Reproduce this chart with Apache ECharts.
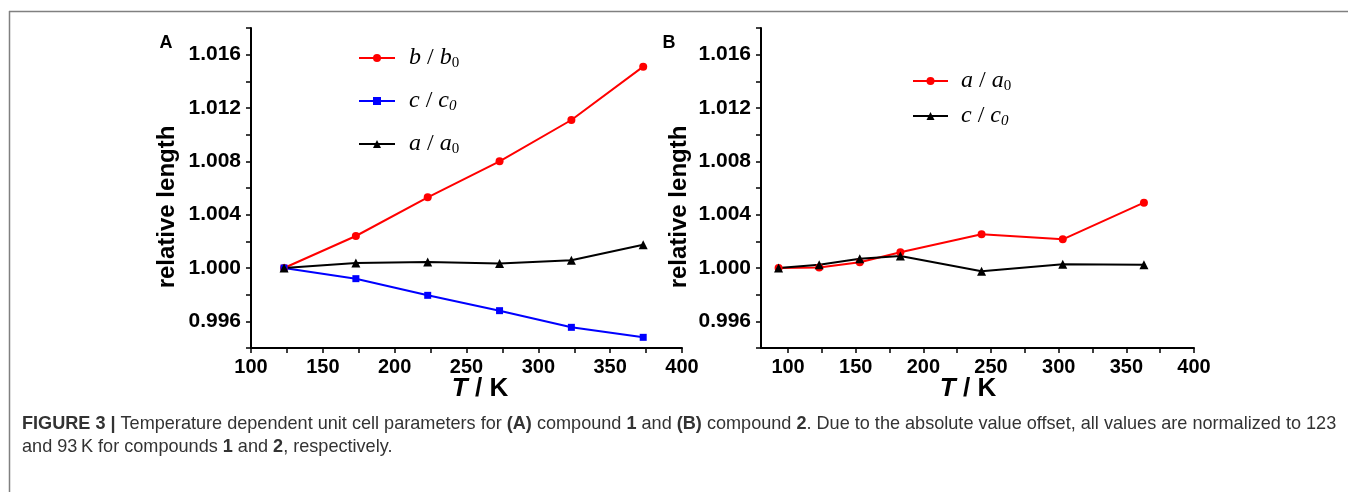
<!DOCTYPE html>
<html>
<head>
<meta charset="utf-8">
<script src="https://cdn.jsdelivr.net/npm/echarts@6/dist/echarts.min.js"></script>
<style>
  html, body { margin: 0; padding: 0; background: #fff; }
  #chart { width: 1348px; height: 492px; }
</style>
</head>
<body>
<div id="chart"></div>
<script>
// panel A: compound 1 (normalized to 123 K)
const tempA = [123, 173, 223, 273, 323, 373];
const bA = [1.0000, 1.0024, 1.0053, 1.0080, 1.0111, 1.0151];
const cA = [1.0000, 0.9992, 0.99795, 0.9968, 0.99555, 0.9948];
const aA = [1.0000, 1.00038, 1.00045, 1.00033, 1.00058, 1.00175];
// panel B: compound 2 (normalized to 93 K)
const tempB = [93, 123, 153, 183, 243, 303, 363];
const aB = [1.0000, 1.00003, 1.00043, 1.00118, 1.00253, 1.00215, 1.0049];
const cB = [1.0000, 1.00025, 1.0007, 1.0009, 0.99975, 1.00028, 1.00025];
// axis ticks / labels
const yTicks = [0.994, 0.996, 0.998, 1.000, 1.002, 1.004, 1.006, 1.008, 1.010, 1.012, 1.014, 1.016, 1.018];
const yLabels = [0.996, 1.000, 1.004, 1.008, 1.012, 1.016];
const xTicks = [100, 125, 150, 175, 200, 225, 250, 275, 300, 325, 350, 375, 400];
const xLabels = [100, 150, 200, 250, 300, 350, 400];

const pair = (xs, ys) => xs.map((x, i) => [x, ys[i]]);

const chart = echarts.init(document.getElementById('chart'));

const sans = 'Liberation Sans, Arial, sans-serif';
const serif = 'Liberation Serif, Times New Roman, serif';

const xAxisBase = {
  type: 'value',
  max: 400,
  axisLine: { lineStyle: { color: '#000', width: 2 } },
  axisTick: { customValues: xTicks, length: 5, lineStyle: { color: '#000', width: 1.5 } },
  axisLabel: { customValues: xLabels, color: '#000', fontSize: 20, fontWeight: 'bold', fontFamily: sans, margin: 9 },
  splitLine: { show: false }
};
const yAxisBase = {
  type: 'value',
  min: 0.994,
  max: 1.018,
  axisLine: { show: true, lineStyle: { color: '#000', width: 2 } },
  axisTick: { show: true, customValues: yTicks, length: 5, lineStyle: { color: '#000', width: 1.5 } },
  axisLabel: {
    customValues: yLabels, color: '#000', fontSize: 21, fontWeight: 'bold', fontFamily: sans, margin: 10,
    formatter: v => v.toFixed(3)
  },
  splitLine: { show: false }
};

function lineSeries(name, idx, data, color, symbol, size) {
  return {
    name: name, type: 'line', xAxisIndex: idx, yAxisIndex: idx,
    data: data, color: color, symbol: symbol, symbolSize: size,
    lineStyle: { width: 2, color: color },
    itemStyle: { color: color },
    emphasis: { disabled: true }
  };
}

// legend label: "x / x0" in italic serif with subscript zero
const legendFormatter = name => {
  const l = name.split(':')[1];
  const sub = l === 'c' ? 'si' : 's';
  return '{i|' + l + '}{t| / }{i|' + l + '}{' + sub + '|0}';
};
const legendRich = {
  i: { fontFamily: serif, fontStyle: 'italic', fontSize: 24, lineHeight: 26, color: '#000' },
  t: { fontFamily: serif, fontSize: 24, lineHeight: 26, color: '#000' },
  s: { fontFamily: serif, fontSize: 15, lineHeight: 14, verticalAlign: 'bottom', color: '#000' },
  si: { fontFamily: serif, fontStyle: 'italic', fontSize: 15, lineHeight: 14, verticalAlign: 'bottom', color: '#000' }
};

const captionFont = 'Liberation Sans, Arial, sans-serif';
const titleRich = {
  it: { fontFamily: sans, fontSize: 26, fontWeight: 'bold', fontStyle: 'italic', fill: '#000' },
  n: { fontFamily: sans, fontSize: 26, fontWeight: 'bold', fill: '#000' }
};

const option = {
  animation: false,
  grid: [
    { left: 251, top: 28, width: 431, height: 320 },
    { left: 761, top: 28, width: 433, height: 320 }
  ],
  xAxis: [
    Object.assign({}, xAxisBase, { gridIndex: 0, min: 100 }),
    Object.assign({}, xAxisBase, { gridIndex: 1, min: 80 })
  ],
  yAxis: [
    Object.assign({}, yAxisBase, { gridIndex: 0 }),
    Object.assign({}, yAxisBase, { gridIndex: 1 })
  ],
  legend: [
    {
      data: ['A:b', 'A:c', 'A:a'], orient: 'vertical', left: 358, top: 46, padding: 0,
      itemGap: 18, itemWidth: 36, itemHeight: 10, selectedMode: false,
      formatter: legendFormatter, textStyle: { rich: legendRich, padding: [0, 0, 0, 9] }
    },
    {
      data: ['B:a', 'B:c'], orient: 'vertical', left: 912, top: 69, padding: 0,
      itemGap: 10, itemWidth: 35, itemHeight: 10, selectedMode: false,
      formatter: legendFormatter, textStyle: { rich: legendRich, padding: [0, 0, 0, 8] }
    }
  ],
  series: [
    lineSeries('A:b', 0, pair(tempA, bA), '#ff0000', 'circle', 8),
    lineSeries('A:c', 0, pair(tempA, cA), '#0000ff', 'rect', 7),
    lineSeries('A:a', 0, pair(tempA, aA), '#000000', 'triangle', 9),
    lineSeries('B:a', 1, pair(tempB, aB), '#ff0000', 'circle', 8),
    lineSeries('B:c', 1, pair(tempB, cB), '#000000', 'triangle', 9)
  ],
  graphic: [
    // figure frame
    { type: 'line', shape: { x1: 9, y1: 11.5, x2: 1348, y2: 11.5 }, style: { stroke: '#808080', lineWidth: 1.5 } },
    { type: 'line', shape: { x1: 9.5, y1: 11, x2: 9.5, y2: 492 }, style: { stroke: '#808080', lineWidth: 1.5 } },
    // panel letters
    { type: 'text', x: 166, y: 43, style: { text: 'A', font: 'bold 18px ' + sans, fill: '#000', align: 'center', verticalAlign: 'middle' } },
    { type: 'text', x: 669, y: 43, style: { text: 'B', font: 'bold 18px ' + sans, fill: '#000', align: 'center', verticalAlign: 'middle' } },
    // y axis titles
    { type: 'text', x: 167, y: 207, rotation: Math.PI / 2, style: { text: 'relative length', font: 'bold 24px ' + sans, fill: '#000', align: 'center', verticalAlign: 'middle' } },
    { type: 'text', x: 679, y: 207, rotation: Math.PI / 2, style: { text: 'relative length', font: 'bold 24px ' + sans, fill: '#000', align: 'center', verticalAlign: 'middle' } },
    // x axis titles
    { type: 'text', x: 480, y: 389, style: { text: '{it|T}{n| / K}', align: 'center', verticalAlign: 'middle', rich: titleRich } },
    { type: 'text', x: 968, y: 389, style: { text: '{it|T}{n| / K}', align: 'center', verticalAlign: 'middle', rich: titleRich } },
    // caption
    { type: 'text', x: 22, y: 424, style: {
      text: '{b|FIGURE 3 |} Temperature dependent unit cell parameters for {b|(A)} compound {b|1} and {b|(B)} compound {b|2}. Due to the absolute value offset, all values are normalized to 123',
      font: '18.1px ' + captionFont, fill: '#333', verticalAlign: 'middle',
      rich: { b: { fontFamily: captionFont, fontSize: 18.1, fontWeight: 'bold', fill: '#333' } } } },
    { type: 'text', x: 22, y: 447, style: {
      text: 'and 93\u2009K for compounds {b|1} and {b|2}, respectively.',
      font: '18.1px ' + captionFont, fill: '#333', verticalAlign: 'middle',
      rich: { b: { fontFamily: captionFont, fontSize: 18.1, fontWeight: 'bold', fill: '#333' } } } }
  ]
};

chart.setOption(option);
</script>
</body>
</html>
